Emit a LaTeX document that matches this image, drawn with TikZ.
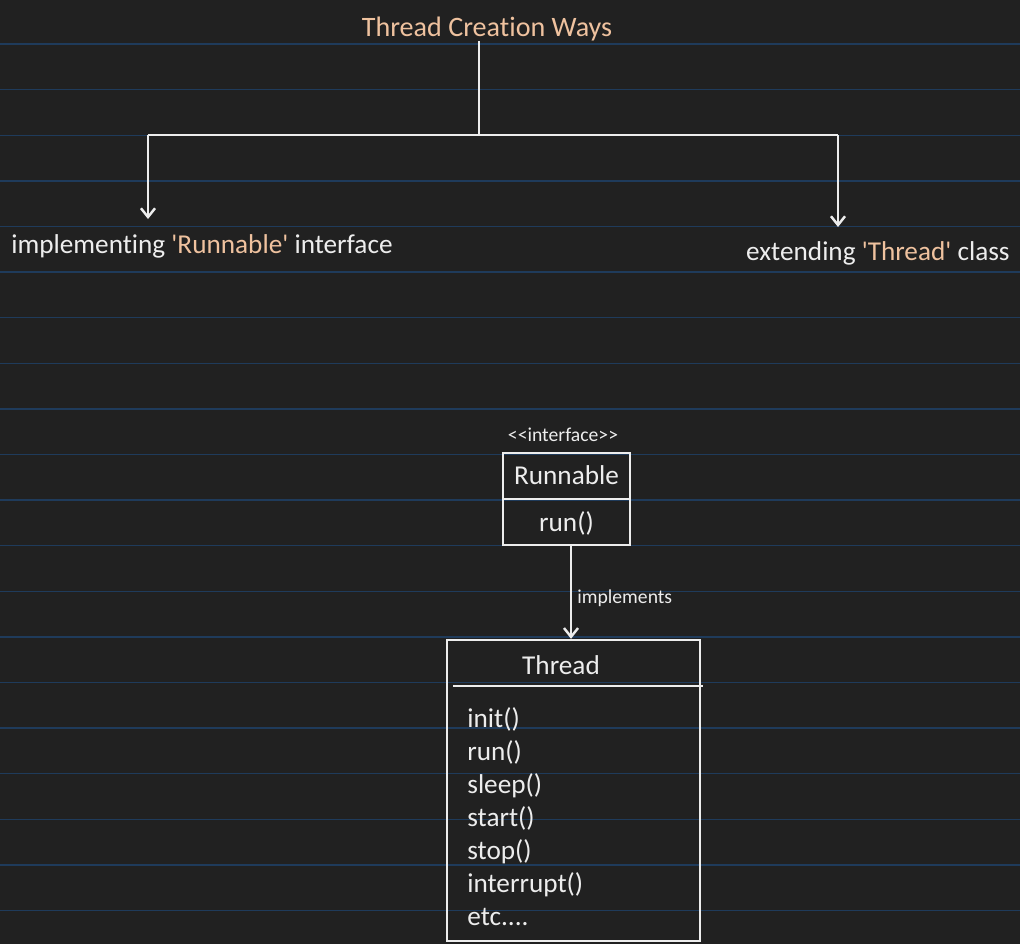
\documentclass[tikz,border=0pt]{standalone}
\usepackage{fontspec}
\setmainfont{Carlito}[Ligatures=NoCommon]
\usetikzlibrary{arrows.meta, positioning, calc}
\definecolor{bgdark}{HTML}{212121}
\definecolor{ruleblue}{HTML}{1F3B5B}
\definecolor{peach}{HTML}{EFC29F}
\definecolor{chalk}{HTML}{EDEDED}
\newcommand{\etcmore}{etc....}
\newcommand{\sq}{\textquotesingle}

\begin{document}
\begin{tikzpicture}[
    x=0.02cm, y=-0.02cm,
    txt/.style={text=chalk, font=\fontsize{15.5}{18}\selectfont, inner sep=0pt},
    smalltxt/.style={text=chalk, font=\fontsize{11.2}{13}\selectfont, inner sep=0pt},
    wire/.style={draw=chalk, line width=1.4pt},
    arr/.style={-{Straight Barb[length=5pt, width=8pt]}, draw=chalk, line width=1.4pt},
    umlbox/.style={draw=chalk, line width=1.4pt, inner sep=0pt}
  ]
  % background and ruled lines
  \fill[bgdark] (0,0) rectangle (1020,944);
  \useasboundingbox (0,0) rectangle (1020,944);
  \foreach \k in {0,...,19}
    \draw[ruleblue, line width=0.8pt] (0,44+45.6*\k) -- (1020,44+45.6*\k);

  % top tree
  \node[txt, text=peach, anchor=base, font=\fontsize{16}{18}\selectfont] (title) at (487,36) {Thread Creation Ways};
  \node[txt, anchor=base west] (viarun) at (11,253)
    {implementing \textcolor{peach}{\sq Runnable\sq} interface};
  \node[txt, anchor=base east] (viathr) at (1010,260)
    {extending \textcolor{peach}{\sq Thread\sq} class};
  \coordinate (barmid)   at (479,135);
  \coordinate (barleft)  at (148,135);
  \coordinate (barright) at (838,135);
  \coordinate (tipleft)  at (148,219);
  \coordinate (tipright) at (838,227);
  \draw[wire] (barmid |- title.south) -- (barmid);
  \draw[wire] (barleft) -- (barright);
  \draw[arr] (barleft) -- (tipleft);
  \draw[arr] (barright) -- (tipright);

  % Runnable interface
  \node[umlbox, minimum width=2.54cm, minimum height=1.84cm] (runbox) at (566.5,499) {};
  \draw[wire] (runbox.west) -- (runbox.east);
  \node[smalltxt, anchor=base] (stereo) at (563,441)
    {<\kern0pt<interface>\kern0pt>};
  \node[txt, anchor=base] (runname) at (566.5,484) {Runnable};
  \node[txt, anchor=base] (runop)   at (566.5,531) {run()};

  % Thread class
  \node[umlbox, minimum width=5.06cm, minimum height=6.02cm] (thrbox) at (573.5,790.5) {};
  \node[txt, anchor=base] (thrname) at (561,674) {Thread};
  \coordinate (divleft)  at (453,686);
  \coordinate (divright) at (703,686);
  \draw[wire] (divleft) -- (divright);
  \foreach \op [count=\i] in {init(), run(), sleep(), start(), stop(), interrupt(), \etcmore}
    \node[txt, anchor=base west] (op\i) at (467,694+33*\i) {\op};

  % implements
  \draw[arr] ([xshift=0.09cm]runbox.south) -- ([xshift=0.09cm]runbox.south |- thrbox.north);
  \node[smalltxt, anchor=base west] (implab) at (577,603) {implements};
\end{tikzpicture}
\end{document}
